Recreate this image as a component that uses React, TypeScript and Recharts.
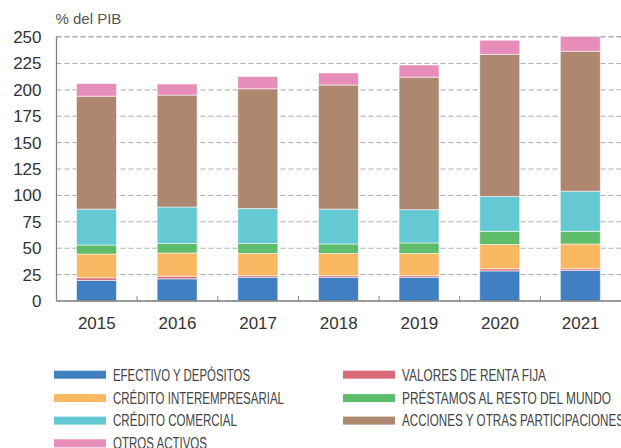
import React from 'react';
import { BarChart, Bar, XAxis, YAxis, CartesianGrid, Legend } from 'recharts';

const years = ['2015', '2016', '2017', '2018', '2019', '2020', '2021'];
const efectivo = [19.5, 21, 22.5, 22.5, 22.5, 28.5, 29];
const valores = [2.5, 2.5, 1.5, 1.5, 1.5, 2, 1.5];
const creditoInter = [22.5, 22, 21, 21, 21, 23, 23.5];
const prestamos = [8.5, 9, 9.5, 9, 10, 12.5, 12];
const creditoCom = [34, 34.5, 33, 33, 31.5, 33, 38];
const acciones = [107, 106, 113.5, 117.5, 125.5, 134.5, 132.5];
const otros = [12, 10.5, 11.5, 11.5, 11.5, 13.5, 14];
const yTicks = [0, 25, 50, 75, 100, 125, 150, 175, 200, 225, 250];

const seriesKeys = ['efectivo', 'valores', 'creditoInter', 'prestamos', 'creditoCom', 'acciones', 'otros'];
const seriesNames = [
  'EFECTIVO Y DEPÓSITOS',
  'VALORES DE RENTA FIJA',
  'CRÉDITO INTEREMPRESARIAL',
  'PRÉSTAMOS AL RESTO DEL MUNDO',
  'CRÉDITO COMERCIAL',
  'ACCIONES Y OTRAS PARTICIPACIONES',
  'OTROS ACTIVOS',
];
const seriesValues = [efectivo, valores, creditoInter, prestamos, creditoCom, acciones, otros];
const colors = ['#3F7FC2', '#D96A7A', '#FBB863', '#5DBD6B', '#64C9D2', '#AD8770', '#E68DB9'];

// legend layout (order in legend grid)
const legendOrder = [
  { key: 'efectivo', col: 0, row: 0, w: 137 },
  { key: 'creditoInter', col: 0, row: 1, w: 171 },
  { key: 'creditoCom', col: 0, row: 2, w: 124 },
  { key: 'otros', col: 0, row: 3, w: 94 },
  { key: 'valores', col: 1, row: 0, w: 144 },
  { key: 'prestamos', col: 1, row: 1, w: 209 },
  { key: 'acciones', col: 1, row: 2, w: 222 },
];

const data = years.map((y, i) => {
  const row: any = { year: y };
  seriesKeys.forEach((k, j) => {
    row[k] = seriesValues[j][i];
  });
  return row;
});

const FONT = '"Liberation Sans", Arimo, "Helvetica Neue", Helvetica, Arial, sans-serif';

const XTick = (props: any) => {
  const { x, y, payload } = props;
  const off = payload && payload.offset ? payload.offset : 0;
  return (
    <g>
      <line x1={x - off} x2={x - off} y1={y - 5} y2={y} stroke="#888" strokeWidth={1} />
      <text x={x} y={y + 28} textAnchor="middle" fontSize={17} fill="#333" fontFamily={FONT}>
        {payload.value}
      </text>
    </g>
  );
};

const LegendContent = (props: any) => {
  const payload = props.payload || [];
  const colX = [54, 343];
  const textX = [113, 402];
  const rowY = [14.7, 38.1, 60.6, 83.3];
  return (
    <svg width={621} height={88} style={{ display: 'block' }}>
      {legendOrder.map((it) => {
        const p = payload.find((q: any) => q.dataKey === it.key);
        if (!p) return null;
        const cy = rowY[it.row];
        return (
          <g key={it.key}>
            <rect x={colX[it.col]} y={cy - 4} width={52} height={8} fill={p.color} />
            <text
              x={textX[it.col]}
              y={cy + 5.8}
              fontSize={16}
              fill="#444"
              fontFamily={FONT}
              textLength={it.w}
              lengthAdjust="spacingAndGlyphs"
            >
              {p.value}
            </text>
          </g>
        );
      })}
    </svg>
  );
};

export default function App() {
  return (
    <div style={{ position: 'absolute', left: 0, top: 0, width: 621, height: 448, background: '#fff' }}>
      <BarChart
        width={621}
        height={448}
        data={data}
        margin={{ top: 36.5, right: 0, bottom: 0, left: 0.5 }}
        barSize={40}
      >
        <CartesianGrid vertical={false} stroke="#aaaaaa" strokeDasharray="5 3" />
        <XAxis
          dataKey="year"
          height={147}
          tickSize={0}
          tickMargin={0}
          axisLine={{ stroke: '#808080', strokeWidth: 1.3 }}
          tickLine={false}
          tick={<XTick />}
          interval={0}
        />
        <YAxis
          width={56}
          domain={[0, 250]}
          ticks={yTicks}
          interval={0}
          tickSize={0}
          tickMargin={15}
          axisLine={{ stroke: '#808080', strokeWidth: 1.3 }}
          tickLine={false}
          tick={{ fontSize: 17, fill: '#333', fontFamily: FONT }}
          label={{
            content: (lp: any) => {
              const vb = lp.viewBox || { x: 0, y: 36.5 };
              return (
                <text x={vb.x + 55} y={vb.y - 13} fontSize={15} fill="#555" fontFamily={FONT}>
                  % del PIB
                </text>
              );
            },
          }}
        />
        <Legend
          layout="horizontal"
          verticalAlign="middle"
          align="center"
          wrapperStyle={{ top: 360, left: 0, width: 621, height: 88 }}
          content={<LegendContent />}
        />
        {seriesKeys.map((k, j) => (
          <Bar
            key={k}
            dataKey={k}
            name={seriesNames[j]}
            stackId="a"
            fill={colors[j]}
            stroke="rgba(255,255,255,0.55)"
            strokeWidth={1}
            isAnimationActive={false}
          />
        ))}
      </BarChart>
    </div>
  );
}
